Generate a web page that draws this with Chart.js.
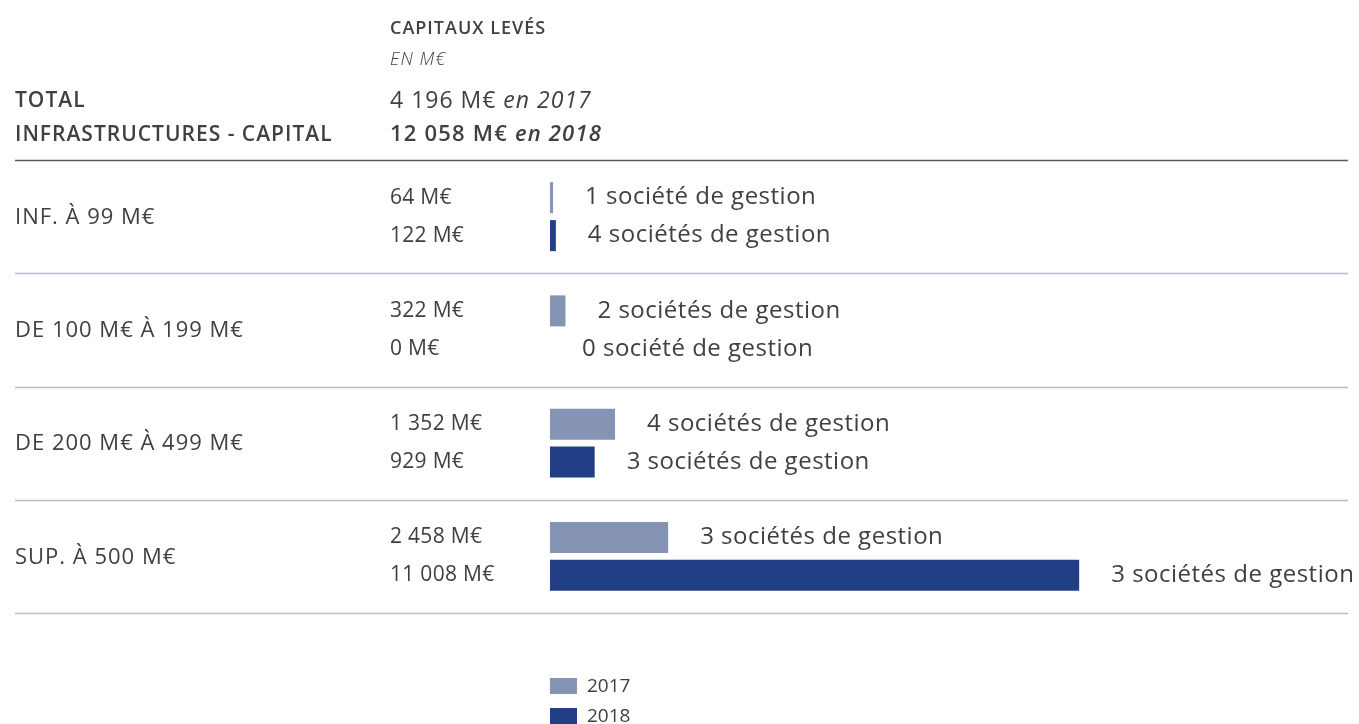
<!DOCTYPE html>
<html>
<head>
<meta charset="utf-8">
<script src="https://cdn.jsdelivr.net/npm/chart.js@4/dist/chart.umd.min.js"></script>
<style>
  html, body { margin: 0; padding: 0; background: #fff; }
  #wrap { position: relative; width: 1359px; height: 724px; }
</style>
</head>
<body>
<div id="wrap"><canvas id="capitauxChart"></canvas></div>
<script>
// Données
const categories = ['INF. À 99 M€', 'DE 100 M€ À 199 M€', 'DE 200 M€ À 499 M€', 'SUP. À 500 M€'];
const years = ['2017', '2018'];
const capitaux2017 = [64, 322, 1352, 2458];
const capitaux2018 = [122, 0, 929, 11008];
const societes2017 = [1, 2, 4, 3];
const societes2018 = [4, 0, 3, 3];
const totals = [4196, 12058];

const COLOR_2017 = '#8593b4';
const COLOR_2018 = '#223e84';
const TEXT = '#404040';
const FONT = '"Open Sans", sans-serif';

function fmt(n) {
    return String(n).replace(/\B(?=(\d{3})+(?!\d))/g, ' ') + ' M€';
}
function socLabel(n) {
    return n + (n > 1 ? ' sociétés' : ' société') + ' de gestion';
}

// draws mixed-style runs of text on one line
function drawRuns(ctx, x, y, runs, spacing) {
    ctx.letterSpacing = spacing;
    runs.forEach(r => {
        ctx.font = r.font;
        ctx.fillText(r.text, x, y);
        x += ctx.measureText(r.text).width;
    });
}

function setFont(ctx, font, spacing) {
    ctx.font = font;
    ctx.letterSpacing = spacing || '0px';
}

const tablePlugin = {
    id: 'tablePlugin',
    afterDraw(chart) {
        const ctx = chart.ctx;
        const yScale = chart.scales.y;
        const area = chart.chartArea;
        const band = (area.bottom - area.top) / categories.length;

        ctx.save();
        ctx.textBaseline = 'middle';
        ctx.textAlign = 'left';
        ctx.fillStyle = TEXT;

        // header
        setFont(ctx, '600 18px ' + FONT, '1px');
        ctx.fillText('CAPITAUX LEVÉS', 390, 29);
        setFont(ctx, 'italic 300 18px ' + FONT, '1px');
        ctx.fillText('EN M€', 390, 60);
        setFont(ctx, '600 21px ' + FONT, '1px');
        ctx.fillText('TOTAL', 15, 101);
        ctx.fillText('INFRASTRUCTURES - CAPITAL', 15, 135);
        drawRuns(ctx, 390, 101, [
            { text: fmt(totals[0]) + ' ', font: '400 23px ' + FONT },
            { text: 'en ' + years[0], font: 'italic 400 23px ' + FONT }
        ], '1px');
        drawRuns(ctx, 390, 135, [
            { text: fmt(totals[1]) + ' ', font: '600 22px ' + FONT },
            { text: 'en ' + years[1], font: 'italic 600 22px ' + FONT }
        ], '1.2px');

        // row separators
        ctx.lineWidth = 1.5;
        for (let i = 0; i <= categories.length; i++) {
            const y = Math.round(yScale.getPixelForValue(0) - band / 2 + i * band) + 0.5;
            ctx.strokeStyle = i === 0 ? '#5a5a5a' : '#b7bdd4';
            ctx.beginPath();
            ctx.moveTo(15, y);
            ctx.lineTo(1348, y);
            ctx.stroke();
        }

        // category labels
        setFont(ctx, '400 22px ' + FONT, '1px');
        categories.forEach((c, i) => {
            ctx.fillText(c, 15, yScale.getPixelForValue(i) + 1);
        });

        // values and number of sociétés
        const counts = [societes2017, societes2018];
        chart.data.datasets.forEach((ds, d) => {
            const meta = chart.getDatasetMeta(d);
            meta.data.forEach((bar, i) => {
                setFont(ctx, '400 21px ' + FONT, '0.3px');
                ctx.fillText(fmt(ds.data[i]), 390, bar.y);
                setFont(ctx, '400 24px ' + FONT, '0.5px');
                ctx.fillText(socLabel(counts[d][i]), bar.x + 32, bar.y);
            });
        });

        // legend
        setFont(ctx, '400 19px ' + FONT, '0px');
        chart.data.datasets.forEach((ds, d) => {
            const y = 678 + d * 30;
            ctx.fillStyle = ds.backgroundColor;
            ctx.fillRect(550, y, 27, 16);
            ctx.fillStyle = TEXT;
            ctx.fillText(ds.label, 587, y + 9);
        });
        ctx.restore();
    }
};

new Chart(document.getElementById('capitauxChart'), {
    type: 'bar',
    data: {
        labels: categories,
        datasets: [
            { label: years[0], data: capitaux2017, backgroundColor: COLOR_2017 },
            { label: years[1], data: capitaux2018, backgroundColor: COLOR_2018 }
        ]
    },
    options: {
        indexAxis: 'y',
        responsive: true,
        maintainAspectRatio: false,
        animation: false,
        categoryPercentage: 0.671,
        barPercentage: 0.816,
        layout: { padding: { left: 550, right: 11, top: 160, bottom: 111 } },
        plugins: {
            legend: { display: false },
            tooltip: { enabled: false }
        },
        scales: {
            x: { type: 'linear', min: 0, max: 16600, display: false },
            y: { type: 'category', display: false, offset: true }
        }
    },
    plugins: [tablePlugin]
});
</script>
</body>
</html>
